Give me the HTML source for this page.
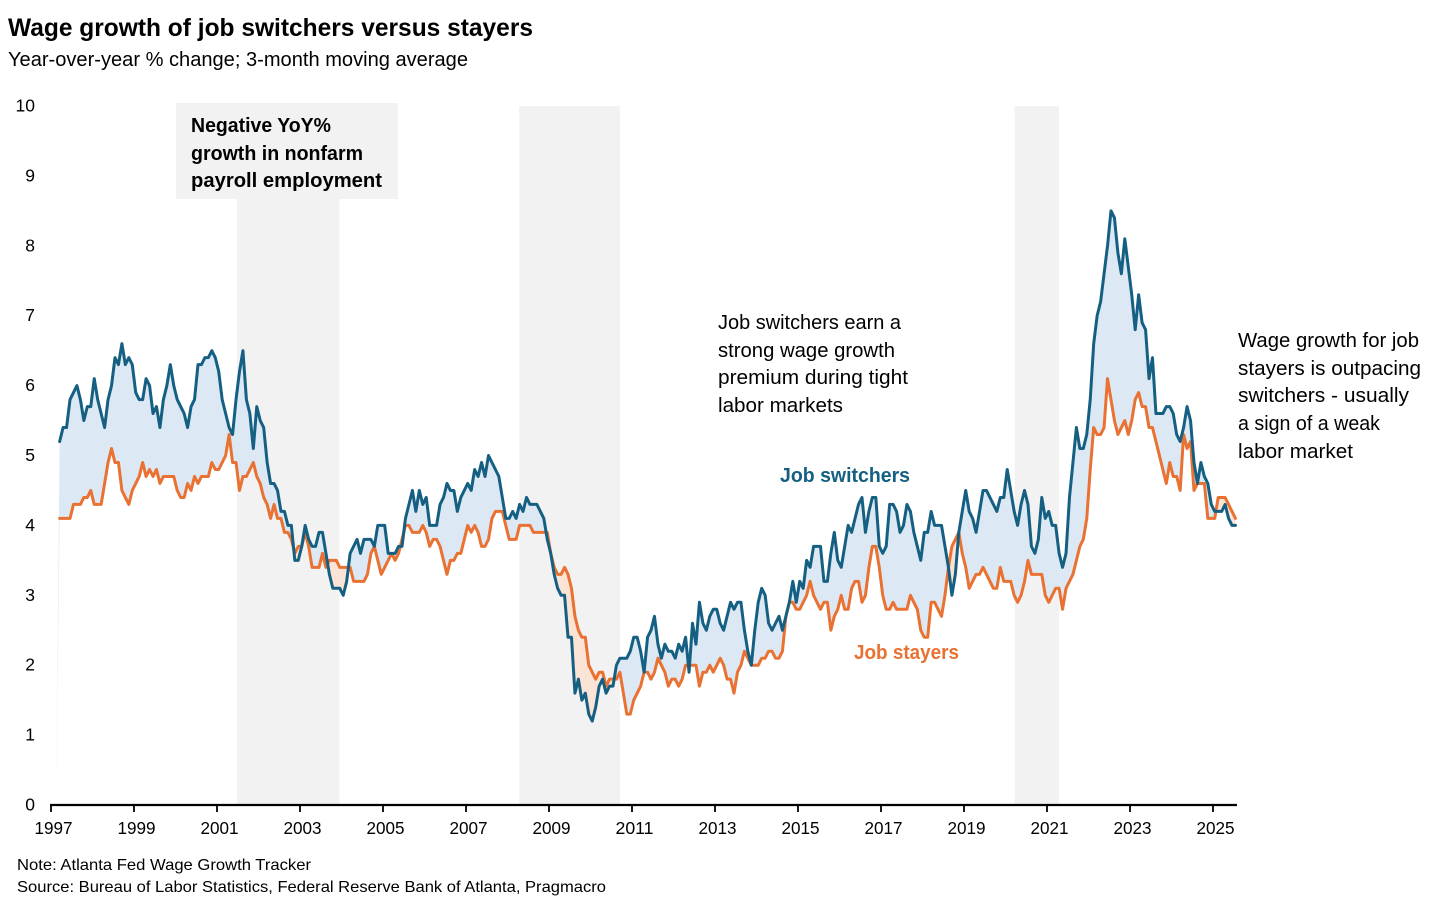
<!DOCTYPE html>
<html lang="en">
<head>
<meta charset="utf-8">
<title>Wage growth of job switchers versus stayers</title>
<style>
html,body{margin:0;padding:0;background:#fff;}
svg{display:block;font-family:"Liberation Sans",sans-serif;}
text{fill:#000;}
</style>
</head>
<body>
<svg id="chart" xmlns="http://www.w3.org/2000/svg" width="1437" height="906" viewBox="0 0 1437 906">
  <rect x="0" y="0" width="1437" height="906" fill="#ffffff"/>
  <g id="bands"></g>
  <rect x="176" y="103" width="222" height="96" fill="#f2f2f2"/>
  <g font-weight="700" font-size="20">
    <text x="191" y="132" textLength="140" lengthAdjust="spacingAndGlyphs">Negative YoY%</text>
    <text x="191" y="160" textLength="172" lengthAdjust="spacingAndGlyphs">growth in nonfarm</text>
    <text x="191" y="187" textLength="191" lengthAdjust="spacingAndGlyphs">payroll employment</text>
  </g>
  <path id="fillPremium" fill="#dde8f5"></path>
  <path id="fillDiscount" fill="#fbe3d6"></path>
  <path id="lineStayers" fill="none" stroke="#e97132" stroke-width="3" stroke-linejoin="round" stroke-linecap="round"></path>
  <path id="lineSwitchers" fill="none" stroke="#156082" stroke-width="3" stroke-linejoin="round" stroke-linecap="round"></path>
  <g id="yAxis" font-size="17.5"></g>
  <g id="xAxis" font-size="17.5"></g>

  <text x="8" y="36" font-size="25" font-weight="700" textLength="525" lengthAdjust="spacingAndGlyphs">Wage growth of job switchers versus stayers</text>
  <text x="8" y="66" font-size="20" textLength="460" lengthAdjust="spacingAndGlyphs">Year-over-year % change; 3-month moving average</text>

  <text x="780" y="482" font-size="20" font-weight="700" style="fill:#156082" textLength="130" lengthAdjust="spacingAndGlyphs">Job switchers</text>
  <text x="854" y="659" font-size="20" font-weight="700" style="fill:#e97132" textLength="105" lengthAdjust="spacingAndGlyphs">Job stayers</text>

  <g font-size="20">
    <text x="718" y="329" textLength="183" lengthAdjust="spacingAndGlyphs">Job switchers earn a</text>
    <text x="718" y="357" textLength="177" lengthAdjust="spacingAndGlyphs">strong wage growth</text>
    <text x="718" y="384" textLength="190" lengthAdjust="spacingAndGlyphs">premium during tight</text>
    <text x="718" y="412" textLength="125" lengthAdjust="spacingAndGlyphs">labor markets</text>
  </g>
  <g font-size="20">
    <text x="1238" y="347" textLength="181" lengthAdjust="spacingAndGlyphs">Wage growth for job</text>
    <text x="1238" y="375" textLength="183" lengthAdjust="spacingAndGlyphs">stayers is outpacing</text>
    <text x="1238" y="402" textLength="171" lengthAdjust="spacingAndGlyphs">switchers - usually</text>
    <text x="1238" y="430" textLength="142" lengthAdjust="spacingAndGlyphs">a sign of a weak</text>
    <text x="1238" y="458" textLength="115" lengthAdjust="spacingAndGlyphs">labor market</text>
  </g>

  <text x="17" y="870" font-size="16" textLength="294" lengthAdjust="spacingAndGlyphs">Note: Atlanta Fed Wage Growth Tracker</text>
  <text x="17" y="892" font-size="16" textLength="589" lengthAdjust="spacingAndGlyphs">Source: Bureau of Labor Statistics, Federal Reserve Bank of Atlanta, Pragmacro</text>
</svg>
<script>
const yTicks = [0,1,2,3,4,5,6,7,8,9,10];
const xTicks = [1997,1999,2001,2003,2005,2007,2009,2011,2013,2015,2017,2019,2021,2023,2025];
const declineStarts = [2001.48,2008.28,2020.22];
const declineEnds = [2003.95,2010.71,2021.29];
const firstMonthOffset = 2;
const switchers = [
5.2,5.4,5.4,5.8,5.9,6.0,5.8,5.5,5.7,5.7,
6.1,5.8,5.6,5.4,5.8,6.0,6.4,6.3,6.6,6.3,
6.4,6.3,5.9,5.8,5.8,6.1,6.0,5.6,5.7,5.4,
5.8,6.0,6.3,6.0,5.8,5.7,5.6,5.4,5.7,5.8,
6.3,6.3,6.4,6.4,6.5,6.4,6.2,5.8,5.6,5.4,
5.3,5.8,6.2,6.5,5.8,5.6,5.1,5.7,5.5,5.4,
4.9,4.6,4.6,4.5,4.2,4.2,4.0,4.0,3.5,3.5,
3.7,4.0,3.8,3.7,3.7,3.9,3.9,3.6,3.3,3.1,
3.1,3.1,3.0,3.2,3.6,3.7,3.8,3.6,3.8,3.8,
3.8,3.7,4.0,4.0,4.0,3.6,3.6,3.6,3.7,3.7,
4.1,4.3,4.5,4.2,4.5,4.3,4.4,4.0,4.0,4.0,
4.3,4.4,4.6,4.5,4.5,4.2,4.4,4.5,4.6,4.5,
4.8,4.7,4.9,4.7,5.0,4.9,4.8,4.7,4.4,4.1,
4.1,4.2,4.1,4.3,4.2,4.4,4.3,4.3,4.3,4.2,
4.1,3.8,3.6,3.3,3.1,3.0,3.0,2.4,2.4,1.6,
1.8,1.5,1.6,1.3,1.2,1.4,1.7,1.8,1.6,1.7,
1.7,2.0,2.1,2.1,2.1,2.2,2.4,2.4,2.2,1.9,
2.4,2.5,2.7,2.3,2.1,2.3,2.2,2.2,2.1,2.3,
2.2,2.4,1.9,2.6,2.3,2.9,2.6,2.5,2.7,2.8,
2.8,2.6,2.5,2.7,2.9,2.8,2.9,2.9,2.5,2.2,
2.0,2.5,2.9,3.1,3.0,2.6,2.5,2.6,2.7,2.5,
2.7,2.9,3.2,2.9,3.2,3.1,3.5,3.4,3.7,3.7,
3.7,3.2,3.2,3.6,3.9,3.5,3.4,3.7,4.0,3.9,
4.1,4.3,4.4,3.9,4.2,4.4,4.4,3.7,3.6,3.7,
4.3,4.3,4.2,3.9,4.0,4.3,4.2,3.9,3.7,3.5,
3.9,3.9,4.2,4.0,4.0,4.0,3.7,3.4,3.0,3.3,
3.9,4.2,4.5,4.2,4.1,3.9,4.2,4.5,4.5,4.4,
4.3,4.2,4.4,4.4,4.8,4.5,4.2,4.0,4.3,4.5,
4.3,3.7,3.6,3.8,4.4,4.1,4.2,4.0,4.0,3.6,
3.4,3.6,4.4,4.9,5.4,5.1,5.1,5.3,5.8,6.6,
7.0,7.2,7.6,8.0,8.5,8.4,7.9,7.6,8.1,7.7,
7.3,6.8,7.3,6.9,6.8,6.1,6.4,5.6,5.6,5.6,
5.7,5.7,5.6,5.3,5.2,5.4,5.7,5.5,4.9,4.6,
4.9,4.7,4.6,4.3,4.2,4.2,4.2,4.3,4.1,4.0,4.0
];
const stayers = [
4.1,4.1,4.1,4.1,4.3,4.3,4.3,4.4,4.4,4.5,
4.3,4.3,4.3,4.6,4.9,5.1,4.9,4.9,4.5,4.4,
4.3,4.5,4.6,4.7,4.9,4.7,4.8,4.7,4.8,4.6,
4.7,4.7,4.7,4.7,4.5,4.4,4.4,4.6,4.5,4.7,
4.6,4.7,4.7,4.7,4.9,4.8,4.8,4.9,5.0,5.3,
4.9,4.9,4.5,4.7,4.7,4.8,4.9,4.7,4.6,4.4,
4.3,4.1,4.3,4.1,4.1,3.9,3.9,3.8,3.6,3.7,
3.7,3.9,3.7,3.4,3.4,3.4,3.6,3.4,3.5,3.5,
3.5,3.4,3.4,3.4,3.4,3.2,3.2,3.2,3.2,3.3,
3.6,3.7,3.5,3.3,3.4,3.5,3.6,3.5,3.6,3.8,
4.0,4.0,3.9,3.9,3.9,4.0,3.9,3.7,3.8,3.8,
3.7,3.5,3.3,3.5,3.5,3.6,3.6,3.8,4.0,3.9,
4.0,3.9,3.7,3.7,3.8,4.1,4.2,4.2,4.2,4.0,
3.8,3.8,3.8,4.0,4.0,4.0,4.0,3.9,3.9,3.9,
3.9,3.9,3.6,3.4,3.3,3.3,3.4,3.3,3.1,2.7,
2.5,2.4,2.4,2.0,1.9,1.8,1.9,1.9,1.7,1.8,
1.8,1.8,1.9,1.6,1.3,1.3,1.5,1.6,1.7,1.9,
1.9,1.8,1.9,2.1,2.0,1.9,1.7,1.8,1.8,1.7,
1.8,2.0,2.0,2.0,2.0,1.7,1.9,1.9,2.0,1.9,
2.0,2.1,2.0,1.8,1.8,1.6,1.9,2.0,2.2,2.1,
2.0,2.0,2.0,2.1,2.1,2.2,2.2,2.1,2.1,2.2,
2.7,2.9,2.9,2.8,2.8,2.9,3.0,3.2,3.0,2.9,
2.8,2.9,2.9,2.5,2.7,2.8,3.0,2.8,2.8,3.1,
3.2,3.2,2.9,3.0,3.4,3.7,3.7,3.4,3.0,2.8,
2.8,2.9,2.8,2.8,2.8,2.8,3.0,2.9,2.8,2.5,
2.4,2.4,2.9,2.9,2.8,2.7,3.0,3.4,3.7,3.8,
3.9,3.6,3.4,3.1,3.2,3.3,3.3,3.4,3.3,3.2,
3.1,3.1,3.4,3.2,3.2,3.2,3.0,2.9,3.0,3.2,
3.5,3.3,3.3,3.3,3.3,3.0,2.9,3.0,3.1,3.1,
2.8,3.1,3.2,3.3,3.5,3.7,3.8,4.1,4.8,5.4,
5.3,5.3,5.4,6.1,5.8,5.5,5.3,5.4,5.5,5.3,
5.5,5.8,5.9,5.7,5.7,5.4,5.4,5.2,5.0,4.8,
4.6,4.9,4.7,4.7,4.5,5.3,5.1,5.2,4.5,4.6,
4.6,4.6,4.1,4.1,4.1,4.4,4.4,4.4,4.3,4.2,4.1
];

const NS = 'http://www.w3.org/2000/svg';
const axisLeft = 51, axisRight = 1237, plotBottom = 805, plotTop = 106;
const yearWidth = 41.5;
function xYear(yr){ return axisLeft + (yr - 1997) * yearWidth; }
function xIndex(i){ return axisLeft + (i + firstMonthOffset + 0.5) * yearWidth / 12; }
function yValue(v){ return plotBottom - (plotBottom - plotTop) * v / 10; }
function fmt(n){ return n.toFixed(2); }
function make(tag, attrs, parent){
  const el = document.createElementNS(NS, tag);
  for (const k in attrs) el.setAttribute(k, attrs[k]);
  parent.appendChild(el);
  return el;
}

const bandsG = document.getElementById('bands');
declineStarts.forEach(function(start, k){
  const band = make('rect', {x:fmt(xYear(start)), y:plotTop, width:fmt(xYear(declineEnds[k]) - xYear(start)), height:plotBottom - plotTop, fill:'#f2f2f2'}, bandsG);
  
  
});

function linePath(values){
  return values.map(function(v, i){ return (i ? 'L' : 'M') + fmt(xIndex(i)) + ' ' + fmt(yValue(v)); }).join('');
}
document.getElementById('lineStayers').setAttribute('d', linePath(stayers));
document.getElementById('lineSwitchers').setAttribute('d', linePath(switchers));

function poly(points){
  return 'M' + points.map(function(p){ return fmt(p[0]) + ' ' + fmt(p[1]); }).join('L') + 'Z';
}
let blueD = poly([[xIndex(-1), yValue(0)], [xIndex(0), yValue(switchers[0])], [xIndex(0), yValue(stayers[0])]]);
let peachD = '';
for (let i = 0; i < switchers.length - 1; i++) {
  const x0 = xIndex(i), x1 = xIndex(i + 1);
  const a0 = switchers[i], a1 = switchers[i + 1], b0 = stayers[i], b1 = stayers[i + 1];
  const d0 = a0 - b0, d1 = a1 - b1;
  if (d0 * d1 < 0) {
    const t = d0 / (d0 - d1);
    const xc = x0 + (x1 - x0) * t, vc = a0 + (a1 - a0) * t;
    const left = poly([[x0, yValue(a0)], [xc, yValue(vc)], [x0, yValue(b0)]]);
    const right = poly([[xc, yValue(vc)], [x1, yValue(a1)], [x1, yValue(b1)]]);
    if (d0 > 0) { blueD += left; peachD += right; } else { peachD += left; blueD += right; }
  } else {
    const q = poly([[x0, yValue(a0)], [x1, yValue(a1)], [x1, yValue(b1)], [x0, yValue(b0)]]);
    if (d0 > 0 || d1 > 0) blueD += q; else if (d0 < 0 || d1 < 0) peachD += q;
  }
}
document.getElementById('fillPremium').setAttribute('d', blueD);
document.getElementById('fillDiscount').setAttribute('d', peachD);

const yG = document.getElementById('yAxis');
yTicks.forEach(function(t){
  const label = make('text', {x:35, y:fmt(yValue(t) + 5.5), 'text-anchor':'end'}, yG);
  
  
  label.textContent = String(t);
});

const xG = document.getElementById('xAxis');
const axisLine = make('line', {x1:axisLeft - 1, x2:axisRight, y1:plotBottom, y2:plotBottom, stroke:'#000', 'stroke-width':2.2}, xG);


xTicks.forEach(function(yr){
  const px = xYear(yr);
  const tick = make('line', {x1:fmt(px), x2:fmt(px), y1:plotBottom, y2:plotBottom + 7, stroke:'#000', 'stroke-width':1.8}, xG);
  
  
  const label = make('text', {x:fmt(px + 2.5), y:834, 'text-anchor':'middle', textLength:38, lengthAdjust:'spacingAndGlyphs'}, xG);
  
  
  label.textContent = String(yr);
});
</script>
</body>
</html>
